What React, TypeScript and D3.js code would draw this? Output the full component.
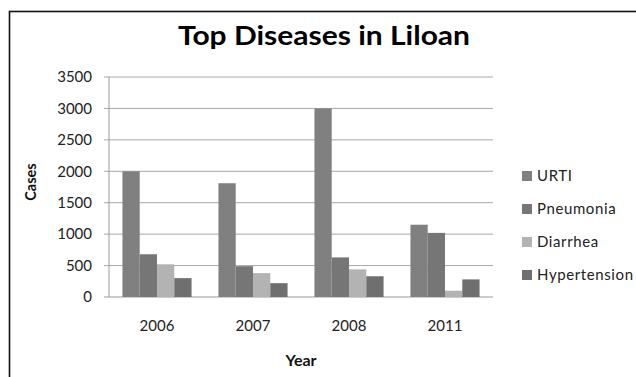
import React from "react";
import * as d3 from "d3";

// Reported cases by year for the four leading diseases
const years = ["2006", "2007", "2008", "2011"];
const seriesNames = ["URTI", "Pneumonia", "Diarrhea", "Hypertension"];
const urti = [2000, 1810, 3000, 1150];
const pneumonia = [680, 490, 630, 1020];
const diarrhea = [520, 380, 440, 100];
const hypertension = [300, 220, 330, 280];
const yTicks = [0, 500, 1000, 1500, 2000, 2500, 3000, 3500];

const seriesValues = [urti, pneumonia, diarrhea, hypertension];
const seriesColors = ["#808080", "#767676", "#b3b3b3", "#6f6f6f"];

const W = 636;
const H = 377;
const plot = { left: 109, right: 493, top: 77, bottom: 297 };
const font = "Lato, 'Open Sans', sans-serif";

export default function App() {
  const x0 = d3
    .scaleBand<string>()
    .domain(years)
    .range([plot.left, plot.right])
    .paddingInner(0.28)
    .paddingOuter(0.14);
  const x1 = d3
    .scaleBand<string>()
    .domain(seriesNames)
    .range([0, x0.bandwidth()])
    .padding(0);
  const y = d3.scaleLinear().domain([0, 3500]).range([plot.bottom, plot.top]);

  return (
    <svg
      width={W}
      height={H}
      style={{ position: "absolute", left: 0, top: 0, background: "#fff" }}
    >
      {/* chart frame */}
      <rect x={9.5} y={11.5} width={700} height={400} fill="#fff" stroke="#111" strokeWidth={1.6} />

      <text
        x={324}
        y={45}
        textAnchor="middle"
        fontFamily={font}
        fontWeight="bold"
        fontSize={27}
        fill="#000"
        textLength={292}
        lengthAdjust="spacingAndGlyphs"
      >
        Top Diseases in Liloan
      </text>

      {/* gridlines and y ticks */}
      {yTicks.map((t) => (
        <g key={t}>
          <line
            x1={plot.left - 5}
            x2={plot.right}
            y1={y(t)}
            y2={y(t)}
            stroke={t === 0 ? "#9a9a9a" : "#a8a8a8"}
            strokeWidth={1}
          />
          <text
            x={92}
            y={y(t)}
            dy="0.35em"
            textAnchor="end"
            fontFamily={font}
            fontSize={15}
            fill="#222"
          >
            {t}
          </text>
        </g>
      ))}
      <line x1={plot.left} x2={plot.left} y1={plot.top} y2={plot.bottom} stroke="#9a9a9a" />

      {/* bars */}
      {years.map((yr, i) => (
        <g key={yr} transform={`translate(${x0(yr)},0)`}>
          {seriesNames.map((s, j) => (
            <rect
              key={s}
              x={x1(s)}
              y={y(seriesValues[j][i])}
              width={x1.bandwidth()}
              height={plot.bottom - y(seriesValues[j][i])}
              fill={seriesColors[j]}
            />
          ))}
          <text
            x={x1.range()[1] / 2}
            y={331}
            textAnchor="middle"
            fontFamily={font}
            fontSize={15}
            fill="#222"
          >
            {yr}
          </text>
        </g>
      ))}

      {/* axis titles */}
      <text
        x={(plot.left + plot.right) / 2}
        y={366}
        textAnchor="middle"
        fontFamily={font}
        fontWeight="bold"
        fontSize={16}
        fill="#111"
      >
        Year
      </text>
      <text
        transform={`translate(36,182) rotate(-90)`}
        textAnchor="middle"
        fontFamily={font}
        fontWeight="bold"
        fontSize={14.5}
        fill="#111"
      >
        Cases
      </text>

      {/* legend */}
      {seriesNames.map((s, j) => (
        <g key={s} transform={`translate(522,${176 + j * 33})`}>
          <rect x={0} y={-5} width={10} height={10} fill={seriesColors[j]} />
          <text
            x={15}
            y={0}
            dy="0.35em"
            fontFamily={font}
            fontSize={15}
            fill="#222"
            letterSpacing={0.6}
          >
            {s}
          </text>
        </g>
      ))}
    </svg>
  );
}
